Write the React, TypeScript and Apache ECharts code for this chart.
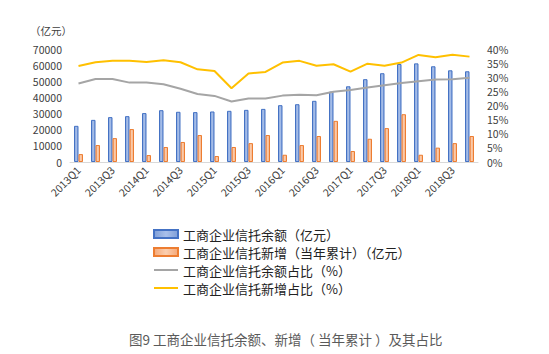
import React, { useEffect, useRef } from "react";
import * as echarts from "echarts";

const categories = [
  "2013Q1", "2013Q2", "2013Q3", "2013Q4",
  "2014Q1", "2014Q2", "2014Q3", "2014Q4",
  "2015Q1", "2015Q2", "2015Q3", "2015Q4",
  "2016Q1", "2016Q2", "2016Q3", "2016Q4",
  "2017Q1", "2017Q2", "2017Q3", "2017Q4",
  "2018Q1", "2018Q2", "2018Q3", "2018Q4",
];

const balance = [
  22400, 26100, 27800, 28400, 30300, 32100, 31100, 30900,
  31300, 31700, 32300, 32900, 35200, 35800, 37900, 43600,
  46900, 51300, 55000, 60700, 61100, 59300, 56800, 56200,
];

const newAdded = [
  4900, 10500, 14800, 20400, 4300, 9300, 12400, 16700,
  3700, 9300, 11700, 16700, 4500, 10500, 16100, 25500,
  6800, 14400, 21000, 29600, 4500, 8900, 11700, 16100,
];

const balanceShare = [
  27.8, 29.4, 29.4, 28.1, 28.1, 27.5, 25.9, 24.1,
  23.4, 21.4, 22.5, 22.5, 23.5, 23.8, 23.6, 24.9,
  25.5, 26.4, 27.2, 28.0, 28.6, 29.2, 29.3, 29.8,
];

const newShare = [
  34.0, 35.3, 35.8, 35.8, 35.4, 36.0, 35.3, 32.8,
  32.2, 26.1, 31.3, 31.9, 35.2, 35.8, 34.1, 34.6,
  32.0, 34.8, 34.1, 35.2, 37.9, 37.1, 38.0, 37.3,
];

const seriesNames = [
  "工商企业信托余额（亿元）",
  "工商企业信托新增（当年累计）（亿元）",
  "工商企业信托余额占比（%）",
  "工商企业信托新增占比（%）",
];

const unitLabel = "（亿元）";
const titleText = "图9 工商企业信托余额、新增（ 当年累计 ）及其占比";

const FONT = "'Noto Sans CJK SC', 'Noto Sans', sans-serif";

export default function App() {
  const ref = useRef<HTMLDivElement>(null);

  useEffect(() => {
    if (!ref.current) return;
    const chart = echarts.init(ref.current, undefined, { renderer: "svg" });

    const blueFill = new echarts.graphic.LinearGradient(0, 0, 1, 0, [
      { offset: 0, color: "#7f9fd8" },
      { offset: 0.5, color: "#a9c0ea" },
      { offset: 1, color: "#7f9fd8" },
    ]);
    const orangeFill = new echarts.graphic.LinearGradient(0, 0, 1, 0, [
      { offset: 0, color: "#f5a878" },
      { offset: 0.5, color: "#fbcfb0" },
      { offset: 1, color: "#f5a878" },
    ]);

    chart.setOption({
      animation: false,
      textStyle: { fontFamily: FONT },
      grid: { left: 70, right: 71, top: 49, bottom: 192 },
      legend: {
        orient: "vertical",
        left: 148,
        top: 222,
        itemWidth: 24,
        itemHeight: 8,
        itemGap: 4,
        textStyle: { fontSize: 13, color: "#222", fontFamily: FONT, lineHeight: 14 },
        data: [
          { name: seriesNames[0], icon: "rect" },
          { name: seriesNames[1], icon: "rect" },
          { name: seriesNames[2], itemStyle: { opacity: 0 } },
          { name: seriesNames[3], itemStyle: { opacity: 0 } },
        ],
      },
      xAxis: {
        type: "category",
        data: categories,
        axisLine: { lineStyle: { color: "#d9d9d9", width: 1 } },
        axisTick: { show: false },
        axisLabel: {
          interval: 1,
          rotate: 45,
          fontSize: 10.5,
          color: "#404040",
          margin: 6,
        },
      },
      yAxis: [
        {
          type: "value",
          min: 0,
          max: 70000,
          interval: 10000,
          splitLine: { show: false },
          axisLine: { show: false },
          axisTick: { show: false },
          axisLabel: {
            fontSize: 10.5,
            lineHeight: 12,
            color: "#404040",
            margin: 8,
            formatter: (v: number) => String(v),
          },
        },
        {
          type: "value",
          min: 0,
          max: 40,
          interval: 5,
          splitLine: { show: false },
          axisLine: { show: false },
          axisTick: { show: false },
          axisLabel: {
            fontSize: 10.5,
            lineHeight: 12,
            color: "#404040",
            margin: 9,
            formatter: "{value}%",
          },
        },
      ],
      graphic: [
        {
          type: "text",
          left: 30,
          top: 25,
          style: { text: unitLabel, fontSize: 10.5, fill: "#404040", fontFamily: FONT },
        },
        {
          type: "text",
          left: 129,
          top: 332,
          style: { text: titleText, fontSize: 13.5, fill: "#5a5a5a", fontFamily: FONT },
        },
      ],
      series: [
        {
          name: seriesNames[0],
          type: "bar",
          data: balance,
          barWidth: 4.5,
          barGap: "0%",
          itemStyle: { color: blueFill, borderColor: "#4472c4", borderWidth: 1 },
        },
        {
          name: seriesNames[1],
          type: "bar",
          data: newAdded,
          barWidth: 4.5,
          itemStyle: { color: orangeFill, borderColor: "#ed7d31", borderWidth: 1 },
        },
        {
          name: seriesNames[2],
          type: "line",
          yAxisIndex: 1,
          data: balanceShare,
          symbol: "none",
          lineStyle: { color: "#a5a5a5", width: 2 },
          itemStyle: { color: "#a5a5a5" },
        },
        {
          name: seriesNames[3],
          type: "line",
          yAxisIndex: 1,
          data: newShare,
          symbol: "none",
          lineStyle: { color: "#ffc000", width: 2 },
          itemStyle: { color: "#ffc000" },
        },
      ],
    });

    return () => chart.dispose();
  }, []);

  return <div ref={ref} style={{ width: 549, height: 354, position: "absolute", left: 0, top: 0 }} />;
}
